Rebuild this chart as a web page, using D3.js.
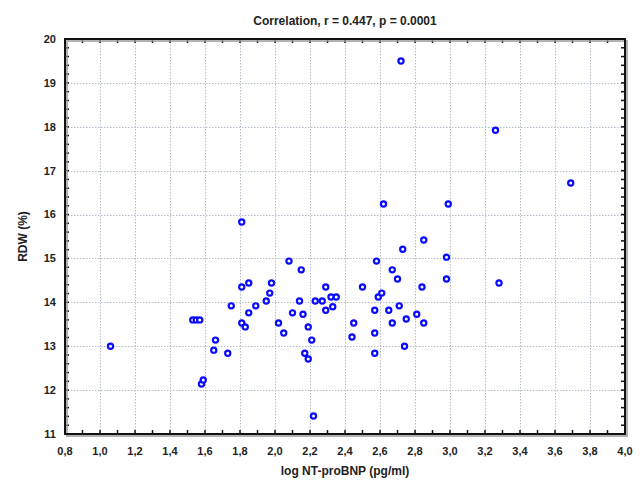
<!DOCTYPE html>
<html>
<head>
<meta charset="utf-8">
<script src="https://cdn.jsdelivr.net/npm/d3@7"></script>
<style>
  body { margin: 0; background: #fff; }
  text { font-family: "Liberation Sans", Arial, sans-serif; font-weight: bold; fill: #222; }
</style>
</head>
<body>
<svg id="chart" width="643" height="480"></svg>
<script>
// log NT-proBNP values (x) and RDW % (y)
const logNtProBnp = [1.06, 1.53, 1.55, 1.57, 1.58, 1.59, 1.65, 1.66, 1.73, 1.75,
  1.81, 1.85, 1.81, 1.83, 1.85, 1.89, 1.95, 1.97, 1.98, 2.02,
  2.05, 2.08, 2.10, 2.14, 2.15, 2.16, 2.19, 2.21, 2.17, 2.19,
  2.22, 2.23, 2.27, 2.29, 2.32, 2.35, 2.29, 2.33, 2.44, 2.45,
  2.50, 2.57, 2.57, 2.57, 2.58, 2.59, 2.61, 2.62, 2.65, 2.67,
  2.67, 2.70, 2.71, 2.72, 2.73, 2.74, 2.75, 2.81, 2.84, 2.85,
  2.85, 2.98, 2.98, 2.99, 3.26, 3.28, 3.69, 1.81];
const rdw = [13.0, 13.6, 13.6, 13.6, 12.14, 12.23, 12.91, 13.14, 12.84, 13.92,
  14.35, 14.44, 13.53, 13.44, 13.76, 13.92, 14.03, 14.21, 14.44, 13.53,
  13.3, 14.94, 13.76, 14.03, 14.74, 13.73, 13.44, 13.14, 12.84, 12.71,
  11.41, 14.03, 14.03, 14.35, 14.12, 14.12, 13.82, 13.9, 13.21, 13.53,
  14.35, 13.82, 13.3, 12.84, 14.94, 14.12, 14.21, 16.24, 13.82, 14.74,
  13.53, 14.53, 13.92, 19.5, 15.21, 13.0, 13.62, 13.73, 14.35, 15.42,
  13.53, 15.03, 14.53, 16.24, 17.92, 14.44, 16.72, 15.83];

const xTicks = [0.8, 1.0, 1.2, 1.4, 1.6, 1.8, 2.0, 2.2, 2.4, 2.6, 2.8, 3.0, 3.2, 3.4, 3.6, 3.8, 4.0];
const yTicks = [11, 12, 13, 14, 15, 16, 17, 18, 19, 20];

const chartTitle = "Correlation, r = 0.447, p = 0.0001";
const xTitle = "log NT-proBNP (pg/ml)";
const yTitle = "RDW (%)";

const points = logNtProBnp.map((v, i) => ({x: v, y: rdw[i]}));

const svg = d3.select("#chart");
const pLeft = 65, pRight = 625, pTop = 39, pBottom = 434;

const x = d3.scaleLinear().domain([0.8, 4.0]).range([pLeft, pRight]);
const y = d3.scaleLinear().domain([11, 20]).range([pBottom, pTop]);

const fmtX = d => d.toFixed(1).replace(".", ",");

// dotted grid
const grid = svg.append("g").attr("stroke", "#b4bccb").attr("stroke-width", 1)
  .attr("stroke-dasharray", "1.5,1.5");
grid.selectAll(".gx").data(xTicks.slice(1, -1)).join("line")
  .attr("x1", d => Math.round(x(d)) + 0.5).attr("x2", d => Math.round(x(d)) + 0.5)
  .attr("y1", pTop).attr("y2", pBottom);
grid.selectAll(".gy").data(yTicks.slice(1, -1)).join("line")
  .attr("y1", d => Math.round(y(d)) + 0.5).attr("y2", d => Math.round(y(d)) + 0.5)
  .attr("x1", pLeft).attr("x2", pRight);

// inward ticks on all four sides
const xMinor = d3.range(8, 41).map(d => d / 10);
const yMinor = d3.range(55, 101).map(d => d / 5);
const ticks = svg.append("g").attr("stroke", "#111").attr("stroke-width", 1.5);
ticks.selectAll(".tb").data(xMinor).join("line")
  .attr("x1", d => x(d)).attr("x2", d => x(d)).attr("y1", pBottom).attr("y2", pBottom - 4);
ticks.selectAll(".tt").data(xMinor).join("line")
  .attr("x1", d => x(d)).attr("x2", d => x(d)).attr("y1", pTop).attr("y2", pTop + 4);
ticks.selectAll(".tl").data(yMinor).join("line")
  .attr("y1", d => y(d)).attr("y2", d => y(d)).attr("x1", pLeft).attr("x2", pLeft + 4);
ticks.selectAll(".tr").data(yMinor).join("line")
  .attr("y1", d => y(d)).attr("y2", d => y(d)).attr("x1", pRight).attr("x2", pRight - 4);

// frame with a faint shadow
svg.append("rect").attr("x", pLeft + 2).attr("y", pTop + 2)
  .attr("width", pRight - pLeft).attr("height", pBottom - pTop)
  .attr("fill", "none").attr("stroke", "#999").attr("stroke-width", 1.5);
svg.append("rect").attr("x", pLeft).attr("y", pTop)
  .attr("width", pRight - pLeft).attr("height", pBottom - pTop)
  .attr("fill", "none").attr("stroke", "#111").attr("stroke-width", 2);

// tick labels
svg.append("g").selectAll("text").data(xTicks).join("text")
  .attr("x", d => x(d)).attr("y", 455)
  .attr("text-anchor", "middle").attr("font-size", 11)
  .text(fmtX);
svg.append("g").selectAll("text").data(yTicks).join("text")
  .attr("x", 56).attr("y", d => y(d)).attr("dy", "0.35em")
  .attr("text-anchor", "end").attr("font-size", 11)
  .text(d => d);

// titles
svg.append("text").attr("x", (pLeft + pRight) / 2).attr("y", 25)
  .attr("text-anchor", "middle").attr("font-size", 12).text(chartTitle);
svg.append("text").attr("x", (pLeft + pRight) / 2).attr("y", 475)
  .attr("text-anchor", "middle").attr("font-size", 12).text(xTitle);
svg.append("text").attr("transform", `translate(27, ${(pTop + pBottom) / 2}) rotate(-90)`)
  .attr("text-anchor", "middle").attr("font-size", 12).text(yTitle);

// points
svg.append("g").selectAll("circle").data(points).join("circle")
  .attr("cx", d => x(d.x)).attr("cy", d => y(d.y)).attr("r", 2.6)
  .attr("fill", "#fff").attr("stroke", "#0a0aff").attr("stroke-width", 2.2);
</script>
</body>
</html>
